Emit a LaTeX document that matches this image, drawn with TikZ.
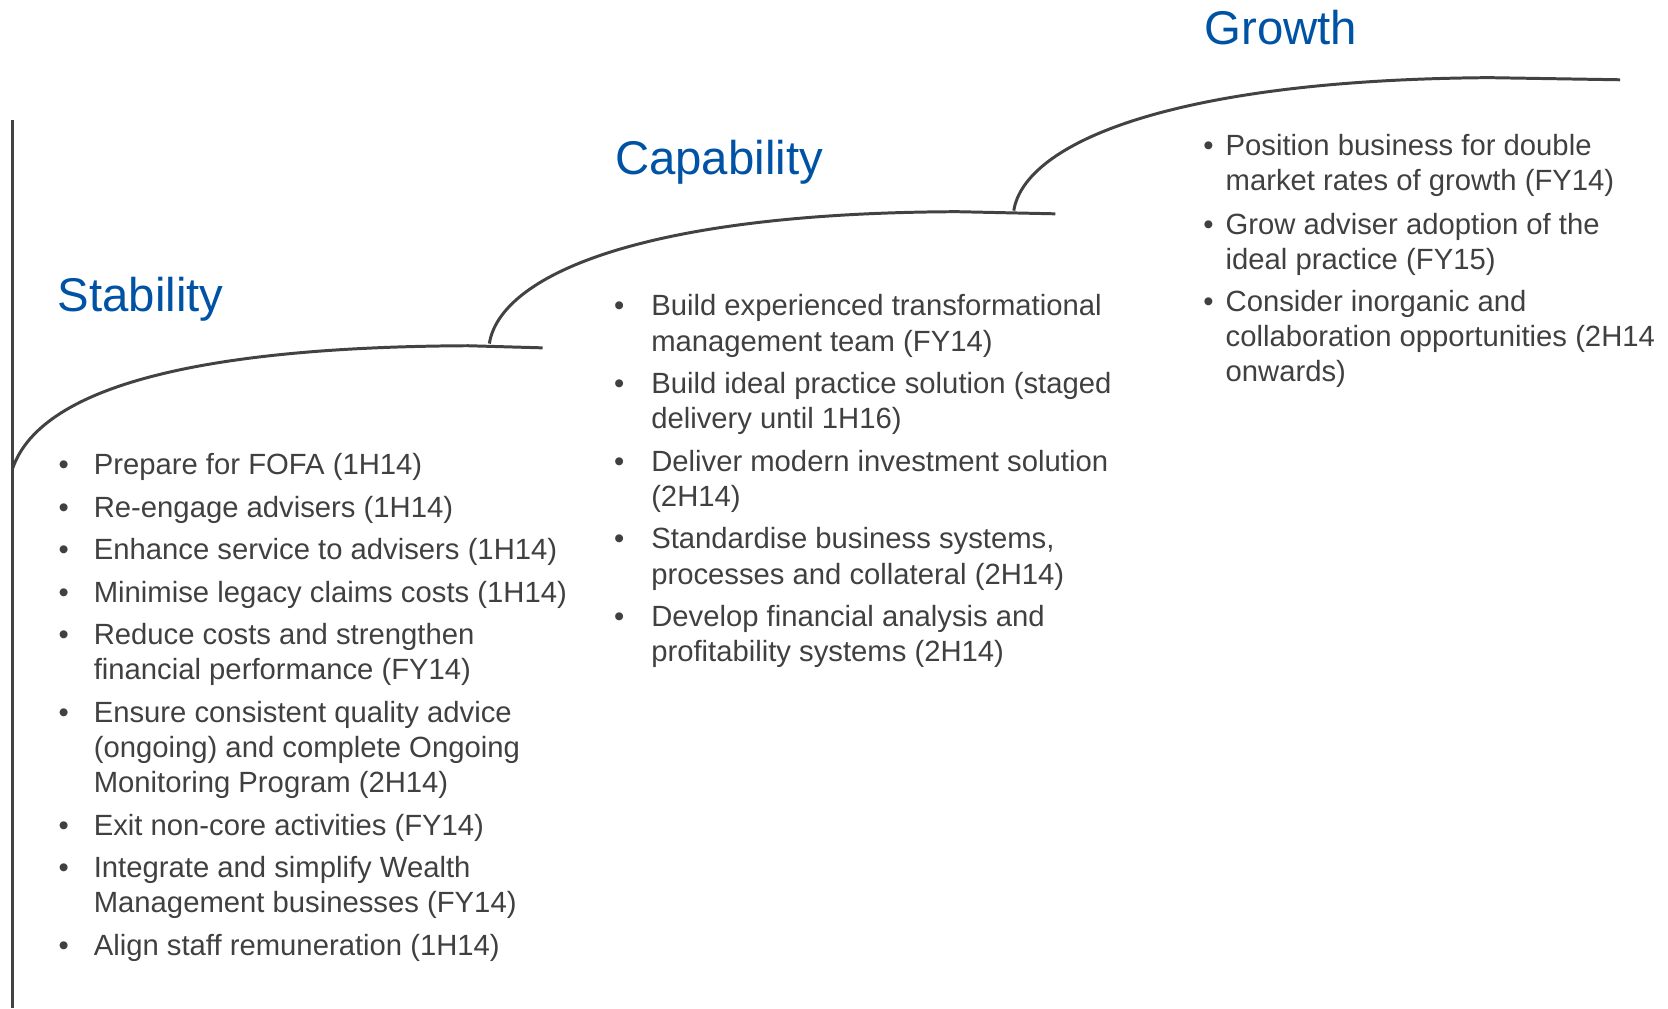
\documentclass[tikz,border=0pt]{standalone}
\usepackage{fontspec}
\setmainfont{Liberation Sans}
\definecolor{ttl}{RGB}{0,82,164}
\definecolor{txt}{RGB}{64,64,64}
\definecolor{ln}{RGB}{66,66,66}
\begin{document}
\begin{tikzpicture}[x=1pt,y=-1pt,
  title/.style={font=\fontsize{44.5}{50}\selectfont, text=ttl, anchor=base west, inner sep=0pt},
  itemline/.style={font=\fontsize{27.5}{33}\selectfont, text=txt, anchor=base west, inner sep=0pt},
  bul/.style={font=\fontsize{27.5}{33}\selectfont, text=txt, anchor=base west, inner sep=0pt},
  curve/.style={draw=ln, line width=2.8pt, line cap=butt}]
\useasboundingbox (0,0) rectangle (1568,948);

% axis and steps
\coordinate (ax0) at (12,113);
\coordinate (ax1) at (12,948);
\draw[curve] (ax0) -- (ax1);

\coordinate (s0) at (12,440);
\coordinate (s1) at (440,325);
\coordinate (s2) at (510,327);
\draw[curve] (s0) .. controls (40,360) and (200,326) .. (s1) -- (s2);

\coordinate (c0) at (460,323);
\coordinate (c1) at (900,199);
\coordinate (c2) at (992,201);
\draw[curve] (c0) .. controls (470,260) and (600,200) .. (c1) -- (c2);

\coordinate (g0) at (953,198);
\coordinate (g1) at (1400,73);
\coordinate (g2) at (1523,75);
\draw[curve] (g0) .. controls (963,135) and (1100,75) .. (g1) -- (g2);

% titles
\node[title] (tstab) at (54,293) {Stability};
\node[title] (tcap) at (578,164) {Capability};
\node[title] (tgro) at (1132,42) {Growth};

% Stability items
\foreach \t/\y [count=\i] in {
  {Prepare for FOFA (1H14)}/446,
  {Re-engage advisers (1H14)}/486,
  {Enhance service to advisers (1H14)}/526,
  {Minimise legacy claims costs (1H14)}/566,
  {Reduce costs and strengthen}/606,
  {financial performance (FY14)}/639,
  {Ensure consistent quality advice}/679,
  {(ongoing) and complete Ongoing}/712,
  {Monitoring Program (2H14)}/745,
  {Exit non-core activities (FY14)}/785,
  {Integrate and simplify Wealth}/825,
  {Management businesses (FY14)}/858,
  {Align staff remuneration (1H14)}/898}
  \node[itemline] (sl\i) at (88,\y) {\t};
\foreach \y [count=\i] in {446,486,526,566,606,679,785,825,898}
  \node[bul] (sb\i) at (55,\y) {\textbullet};

% Capability items
\foreach \t/\y [count=\i] in {
  {Build experienced transformational}/297,
  {management team (FY14)}/330,
  {Build ideal practice solution (staged}/370,
  {delivery until 1H16)}/403,
  {Deliver modern investment solution}/443,
  {(2H14)}/476,
  {Standardise business systems,}/516,
  {processes and collateral (2H14)}/549,
  {Develop financial analysis and}/589,
  {profitability systems (2H14)}/622}
  \node[itemline] (cl\i) at (612,\y) {\t};
\foreach \y [count=\i] in {297,370,443,516,589}
  \node[bul] (cb\i) at (577,\y) {\textbullet};

% Growth items
\foreach \t/\y [count=\i] in {
  {Position business for double}/146,
  {market rates of growth (FY14)}/179,
  {Grow adviser adoption of the}/220,
  {ideal practice (FY15)}/253,
  {Consider inorganic and}/293,
  {collaboration opportunities (2H14}/326,
  {onwards)}/359}
  \node[itemline] (gl\i) at (1152,\y) {\t};
\foreach \y [count=\i] in {146,220,293}
  \node[bul] (gb\i) at (1131,\y) {\textbullet};
\end{tikzpicture}
\end{document}
